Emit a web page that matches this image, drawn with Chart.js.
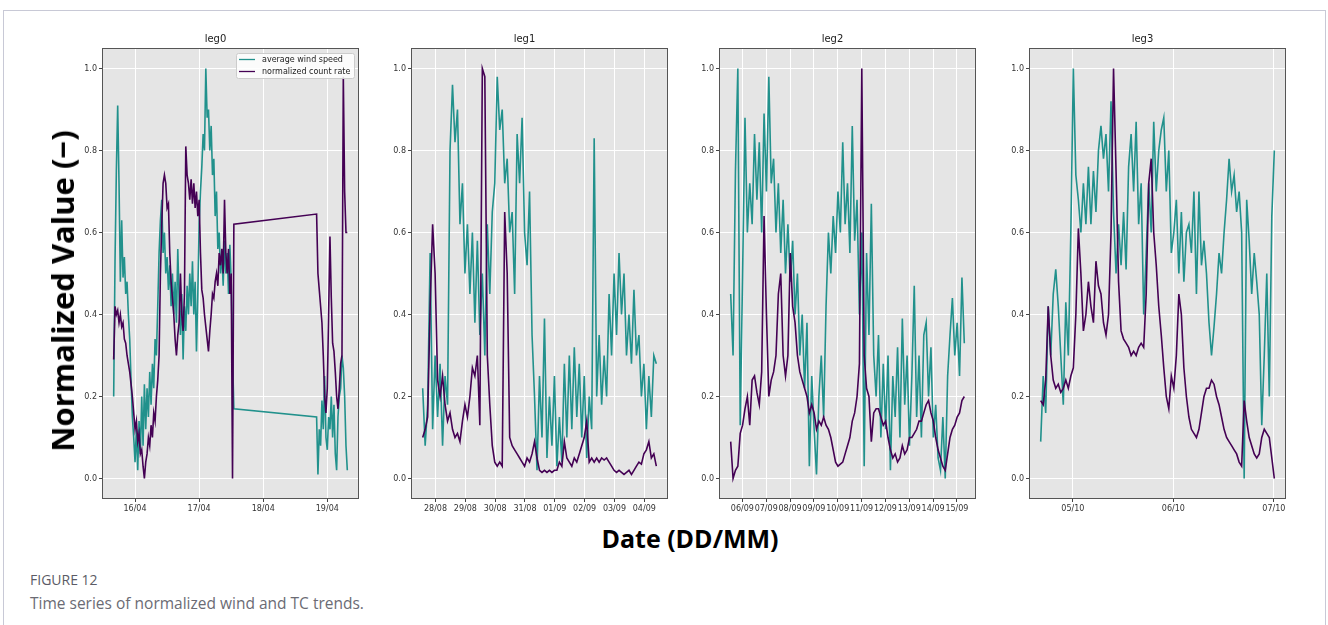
<!DOCTYPE html>
<html>
<head>
<meta charset="utf-8">
<script src="https://cdn.jsdelivr.net/npm/chart.js@4.4.1/dist/chart.umd.min.js"></script>
<style>
  html, body { margin: 0; padding: 0; background: #fff; width: 1328px; height: 625px; overflow: hidden; }
  .frame { position: absolute; left: 3px; top: 10px; width: 1323px; height: 700px; border: 1px solid #c8c9d6; box-sizing: border-box; }
  canvas.panel { position: absolute; top: 33px; }
  .ylab { position: absolute; left: 62px; top: 291px; transform: translate(-50%, -50%) rotate(-90deg);
          font: bold 31px 'Open Sans', sans-serif; white-space: nowrap; color: #000; }
  .xlab { position: absolute; left: 690px; top: 538px; transform: translate(-50%, -50%);
          font: bold 25px 'Open Sans', sans-serif; white-space: nowrap; color: #000; }
  .fig { position: absolute; left: 30px; top: 570px; font: 14px 'Open Sans', sans-serif; color: #5b5b66; }
  .caption { position: absolute; left: 30px; top: 592px; font: 15.5px 'Open Sans', sans-serif; color: #6b6b74; white-space: nowrap; }
</style>
</head>
<body>
<div class="frame"></div>
<canvas class="panel" id="leg0" width="295" height="486" style="left:72px"></canvas>
<canvas class="panel" id="leg1" width="295" height="486" style="left:381px"></canvas>
<canvas class="panel" id="leg2" width="295" height="486" style="left:689px"></canvas>
<canvas class="panel" id="leg3" width="295" height="486" style="left:999px"></canvas>
<div class="ylab">Normalized Value (−)</div>
<div class="xlab">Date (DD/MM)</div>
<div class="fig">FIGURE 12</div>
<div class="caption">Time series of normalized wind and TC trends.</div>

<script>
// Leg 0: April, half-hourly samples, data gap between 17/04 and 18/04
const leg0Start = 15.667;
const leg0LateStart = 18.833;
const leg0Step = 1 / 48;
const leg0Wind = [
    0.20, 0.53, 0.75, 0.91, 0.72, 0.48, 0.63, 0.49, 0.54, 0.45,
    0.48, 0.40, 0.34, 0.24, 0.15, 0.10, 0.04, 0.12, 0.02, 0.14,
    0.06, 0.20, 0.08, 0.23, 0.12, 0.22, 0.15, 0.26, 0.18, 0.28,
    0.22, 0.34, 0.30, 0.42, 0.55, 0.63, 0.68, 0.55, 0.60, 0.50,
    0.54, 0.46, 0.52, 0.42, 0.50, 0.40, 0.48, 0.38, 0.56, 0.44,
    0.35, 0.45, 0.29, 0.42, 0.36, 0.47, 0.40, 0.50, 0.42, 0.53,
    0.40, 0.48, 0.31, 0.45, 0.62, 0.70, 0.76, 0.84, 0.80, 1.00,
    0.88, 0.90, 0.80, 0.86, 0.74, 0.78, 0.64, 0.70, 0.56, 0.60,
    0.50, 0.55, 0.47, 0.58, 0.50, 0.55, 0.45, 0.57, 0.48, 0.30,
    0.17
];
const leg0Count = [
    0.29, 0.42, 0.40, 0.41, 0.38, 0.40, 0.37, 0.38, 0.34, 0.33,
    0.30, 0.28, 0.26, 0.23, 0.20, 0.16, 0.12, 0.14, 0.09, 0.11,
    0.06, 0.07, 0.03, 0.00, 0.04, 0.06, 0.10, 0.08, 0.13, 0.10,
    0.16, 0.14, 0.20, 0.24, 0.30, 0.50, 0.62, 0.72, 0.74, 0.72,
    0.66, 0.67, 0.55, 0.48, 0.44, 0.40, 0.34, 0.30, 0.35, 0.38,
    0.50, 0.40, 0.36, 0.45, 0.81, 0.74, 0.72, 0.68, 0.73, 0.67,
    0.72, 0.66, 0.70, 0.64, 0.68, 0.55, 0.46, 0.44, 0.40, 0.37,
    0.34, 0.31, 0.36, 0.40, 0.45, 0.44, 0.48, 0.50, 0.47, 0.55,
    0.52, 0.56, 0.50, 0.68, 0.55, 0.50, 0.56, 0.45, 0.50, 0.00,
    0.62
];
const leg0WindLate = [
    0.15, 0.01, 0.12, 0.08, 0.19, 0.12, 0.25, 0.10, 0.07, 0.15,
    0.12, 0.20, 0.10, 0.18, 0.06, 0.02, 0.15, 0.20, 0.22, 0.30,
    0.27, 0.20, 0.08, 0.02
];
const leg0CountLate = [
    0.645, 0.50, 0.46, 0.42, 0.38, 0.30, 0.20, 0.16, 0.22, 0.40,
    0.59, 0.44, 0.33, 0.31, 0.26, 0.20, 0.17, 0.22, 0.28, 0.30,
    0.98, 0.70, 0.60, 0.60
];
const leg0Ticks = [16, 17, 18, 19];

// Leg 1: end of August into September (day > 31 means September), 2-hourly
const leg1Start = 27.57;
const leg1Step = 1 / 12;
const leg1Wind = [
    0.22, 0.08, 0.18, 0.55, 0.12, 0.30, 0.15, 0.28, 0.08, 0.25,
    0.18, 0.80, 0.96, 0.82, 0.90, 0.62, 0.72, 0.50, 0.62, 0.45,
    0.60, 0.38, 0.58, 0.35, 0.50, 0.30, 0.62, 0.45, 0.65, 0.72,
    0.98, 0.85, 0.90, 0.72, 0.78, 0.60, 0.65, 0.45, 0.84, 0.72,
    0.88, 0.60, 0.52, 0.70, 0.35, 0.20, 0.02, 0.25, 0.10, 0.39,
    0.05, 0.20, 0.08, 0.25, 0.03, 0.15, 0.04, 0.28, 0.10, 0.30,
    0.12, 0.32, 0.15, 0.28, 0.10, 0.25, 0.05, 0.20, 0.12, 0.83,
    0.20, 0.35, 0.18, 0.30, 0.20, 0.45, 0.30, 0.50, 0.35, 0.55,
    0.40, 0.50, 0.30, 0.40, 0.28, 0.46, 0.30, 0.35, 0.20, 0.28,
    0.12, 0.25, 0.15, 0.30, 0.28
];
const leg1Count = [
    0.10, 0.12, 0.15, 0.42, 0.62, 0.50, 0.24, 0.20, 0.25, 0.18,
    0.14, 0.16, 0.12, 0.10, 0.11, 0.09, 0.14, 0.18, 0.15, 0.20,
    0.27, 0.25, 0.30, 0.13, 1.00, 0.98, 0.30, 0.18, 0.08, 0.04,
    0.03, 0.04, 0.03, 0.65, 0.50, 0.10, 0.08, 0.07, 0.06, 0.05,
    0.04, 0.03, 0.05, 0.04, 0.06, 0.09, 0.05, 0.02, 0.015, 0.02,
    0.015, 0.02, 0.015, 0.02, 0.02, 0.04, 0.03, 0.09, 0.05, 0.04,
    0.03, 0.05, 0.04, 0.06, 0.08, 0.10, 0.14, 0.04, 0.05, 0.04,
    0.05, 0.04, 0.05, 0.045, 0.05, 0.04, 0.03, 0.02, 0.015, 0.02,
    0.015, 0.01, 0.015, 0.02, 0.01, 0.02, 0.03, 0.04, 0.035, 0.06,
    0.07, 0.09, 0.05, 0.06, 0.03
];
const leg1Ticks = [28, 29, 30, 31, 32, 33, 34, 35];

// Leg 2: September
const leg2Start = 5.51;
const leg2Step = 0.1;
const leg2Wind = [
    0.45, 0.30, 0.75, 1.00, 0.13, 0.50, 0.88, 0.60, 0.72, 0.62,
    0.84, 0.68, 0.82, 0.60, 0.89, 0.70, 0.98, 0.72, 0.78, 0.60,
    0.72, 0.55, 0.68, 0.50, 0.62, 0.48, 0.58, 0.40, 0.50, 0.30,
    0.40, 0.22, 0.38, 0.03, 0.25, 0.12, 0.01, 0.20, 0.30, 0.15,
    0.42, 0.60, 0.50, 0.64, 0.55, 0.70, 0.60, 0.82, 0.62, 0.72,
    0.55, 0.86, 0.58, 0.68, 0.40, 0.60, 0.03, 0.55, 0.35, 0.67,
    0.30, 0.20, 0.35, 0.10, 0.28, 0.12, 0.30, 0.02, 0.25, 0.15,
    0.32, 0.10, 0.39, 0.18, 0.30, 0.08, 0.25, 0.47, 0.15, 0.30,
    0.10, 0.35, 0.38, 0.20, 0.32, 0.10, 0.18, 0.05, 0.02, 0.15,
    0.00, 0.25, 0.35, 0.44, 0.30, 0.38, 0.25, 0.49, 0.33
];
const leg2Count = [
    0.09, 0.00, 0.02, 0.03, 0.11, 0.13, 0.17, 0.20, 0.13, 0.24,
    0.25, 0.21, 0.18, 0.26, 0.64, 0.40, 0.20, 0.24, 0.26, 0.30,
    0.45, 0.50, 0.30, 0.25, 0.30, 0.55, 0.42, 0.38, 0.30, 0.26,
    0.24, 0.22, 0.20, 0.16, 0.18, 0.16, 0.12, 0.14, 0.13, 0.15,
    0.13, 0.12, 0.10, 0.07, 0.04, 0.03, 0.035, 0.04, 0.06, 0.08,
    0.10, 0.14, 0.16, 0.20, 0.28, 1.00, 0.30, 0.22, 0.20, 0.09,
    0.16, 0.17, 0.17, 0.15, 0.13, 0.14, 0.10, 0.07, 0.05, 0.06,
    0.04, 0.05, 0.08, 0.06, 0.07, 0.10, 0.10, 0.11, 0.12, 0.14,
    0.14, 0.16, 0.18, 0.19, 0.16, 0.14, 0.10, 0.07, 0.05, 0.03,
    0.02, 0.06, 0.10, 0.12, 0.13, 0.15, 0.16, 0.19, 0.20
];
const leg2Ticks = [6, 7, 8, 9, 10, 11, 12, 13, 14, 15];

// Leg 3: October
const leg3Start = 4.68;
const leg3Step = 1 / 40;
const leg3Wind = [
    0.09, 0.25, 0.16, 0.42, 0.30, 0.45, 0.51, 0.42, 0.30, 0.18,
    0.43, 0.30, 0.60, 1.00, 0.74, 0.68, 0.60, 0.72, 0.62, 0.76,
    0.62, 0.75, 0.65, 0.80, 0.86, 0.78, 0.84, 0.70, 0.92, 0.65,
    0.50, 0.62, 0.52, 0.65, 0.51, 0.76, 0.84, 0.70, 0.87, 0.62,
    0.72, 0.40, 0.55, 0.72, 0.60, 0.87, 0.70, 0.80, 0.85, 0.88,
    0.70, 0.80, 0.55, 0.60, 0.68, 0.50, 0.65, 0.48, 0.60, 0.62,
    0.55, 0.70, 0.45, 0.70, 0.52, 0.58, 0.50, 0.38, 0.30, 0.37,
    0.45, 0.55, 0.50, 0.60, 0.68, 0.78, 0.70, 0.74, 0.65, 0.70,
    0.60, 0.00, 0.68, 0.58, 0.45, 0.55, 0.48, 0.40, 0.13, 0.30,
    0.50, 0.20, 0.64, 0.80
];
const leg3Count = [
    0.19, 0.18, 0.24, 0.42, 0.30, 0.24, 0.22, 0.23, 0.21, 0.22,
    0.24, 0.22, 0.25, 0.27, 0.40, 0.61, 0.50, 0.36, 0.40, 0.48,
    0.42, 0.38, 0.53, 0.47, 0.45, 0.38, 0.35, 0.40, 0.60, 1.00,
    0.75, 0.48, 0.36, 0.34, 0.33, 0.32, 0.30, 0.31, 0.30, 0.32,
    0.33, 0.32, 0.45, 0.72, 0.78, 0.60, 0.52, 0.42, 0.35, 0.27,
    0.20, 0.17, 0.25, 0.22, 0.30, 0.45, 0.40, 0.27, 0.20, 0.15,
    0.12, 0.11, 0.10, 0.12, 0.16, 0.20, 0.22, 0.22, 0.24, 0.23,
    0.20, 0.18, 0.15, 0.12, 0.10, 0.09, 0.08, 0.07, 0.06, 0.04,
    0.03, 0.19, 0.14, 0.10, 0.08, 0.06, 0.05, 0.06, 0.10, 0.12,
    0.11, 0.10, 0.05, 0.00
];
const leg3Ticks = [5, 6, 7];

const yTicks = [0, 0.2, 0.4, 0.6, 0.8, 1.0];

const windColor = '#21918c';
const countColor = '#440154';
const tickFont = { family: 'DejaVu Sans', size: 8 };

function toPoints(start, step, values) {
    return values.map((v, i) => ({ x: start + i * step, y: v }));
}

function dayLabel(v, month, monthLen) {
    let d = Math.round(v);
    let m = month;
    if (d > monthLen) { d -= monthLen; m += 1; }
    return String(d).padStart(2, '0') + '/' + String(m).padStart(2, '0');
}

// grey plot background + dark frame, like the ggplot style
const panelFrame = {
    id: 'panelFrame',
    beforeDraw(chart) {
        const a = chart.chartArea, ctx = chart.ctx;
        ctx.save();
        ctx.fillStyle = '#e5e5e5';
        ctx.fillRect(a.left, a.top, a.width, a.height);
        ctx.restore();
    },
    afterDraw(chart) {
        const a = chart.chartArea, ctx = chart.ctx;
        ctx.save();
        ctx.strokeStyle = '#555';
        ctx.lineWidth = 1;
        ctx.strokeRect(a.left + 0.5, a.top + 0.5, a.width - 1, a.height - 1);
        ctx.restore();
    }
};

// small boxed legend in the top right corner of the plot
const boxLegend = {
    id: 'boxLegend',
    afterDatasetsDraw(chart, args, opts) {
        if (!opts.show) return;
        const a = chart.chartArea, ctx = chart.ctx;
        const w = 118, h = 25, right = a.right - 5, top = a.top + 5;
        const left = right - w;
        ctx.save();
        ctx.fillStyle = 'rgba(255,255,255,0.85)';
        ctx.strokeStyle = '#cccccc';
        ctx.lineWidth = 1;
        ctx.beginPath();
        ctx.roundRect(left + 0.5, top + 0.5, w, h, 2);
        ctx.fill();
        ctx.stroke();
        ctx.font = '8px "DejaVu Sans"';
        ctx.textBaseline = 'middle';
        chart.data.datasets.forEach((ds, i) => {
            const y = top + 6.5 + i * 12;
            ctx.strokeStyle = ds.borderColor;
            ctx.lineWidth = 1.3;
            ctx.beginPath();
            ctx.moveTo(left + 3, y);
            ctx.lineTo(left + 19, y);
            ctx.stroke();
            ctx.fillStyle = '#222';
            ctx.fillText(ds.label, left + 26, y);
        });
        ctx.restore();
    }
};

function makePanel(id, wind, count, ticks, month, monthLen, showLegend) {
    const xs = wind.map(p => p.x);
    const lo = Math.min(...xs), hi = Math.max(...xs);
    const pad = (hi - lo) * 0.05;

    return new Chart(document.getElementById(id), {
        type: 'line',
        data: {
            datasets: [
                { label: 'average wind speed', data: wind, borderColor: windColor, order: 1 },
                { label: 'normalized count rate', data: count, borderColor: countColor, order: 0 }
            ]
        },
        options: {
            responsive: false,
            animation: false,
            events: [],
            elements: {
                line: { borderWidth: 1.6, tension: 0, fill: false },
                point: { radius: 0 }
            },
            layout: { padding: { top: 0, right: 8, bottom: 0, left: 0 } },
            scales: {
                x: {
                    type: 'linear',
                    min: lo - pad,
                    max: hi + pad,
                    afterBuildTicks: s => { s.ticks = ticks.map(v => ({ value: v })); },
                    afterFit: s => { s.height = 20; s.paddingLeft = 0; s.paddingRight = 0; },
                    ticks: {
                        autoSkip: false, maxRotation: 0, minRotation: 0, padding: 2,
                        font: tickFont, color: '#333',
                        callback: v => dayLabel(v, month, monthLen)
                    },
                    grid: { color: '#ffffff', lineWidth: 1, tickColor: '#444', tickLength: 3 },
                    border: { display: false }
                },
                y: {
                    min: -0.05,
                    max: 1.05,
                    afterBuildTicks: s => { s.ticks = yTicks.map(v => ({ value: v })); },
                    afterFit: s => { s.width = 30; s.paddingTop = 0; s.paddingBottom = 0; },
                    ticks: {
                        padding: 2, font: tickFont, color: '#333',
                        callback: v => v.toFixed(1)
                    },
                    grid: { color: '#ffffff', lineWidth: 1, tickColor: '#444', tickLength: 3 },
                    border: { display: false }
                }
            },
            plugins: {
                legend: { display: false },
                tooltip: { enabled: false },
                title: {
                    display: true,
                    text: id,
                    color: '#222',
                    font: { family: 'DejaVu Sans', size: 10, weight: 'normal' },
                    padding: { top: 0, bottom: 3 }
                },
                boxLegend: { show: showLegend }
            }
        },
        plugins: [panelFrame, boxLegend]
    });
}

makePanel('leg0',
    toPoints(leg0Start, leg0Step, leg0Wind).concat(toPoints(leg0LateStart, leg0Step, leg0WindLate)),
    toPoints(leg0Start, leg0Step, leg0Count).concat(toPoints(leg0LateStart, leg0Step, leg0CountLate)),
    leg0Ticks, 4, 30, true);
makePanel('leg1', toPoints(leg1Start, leg1Step, leg1Wind), toPoints(leg1Start, leg1Step, leg1Count),
    leg1Ticks, 8, 31, false);
makePanel('leg2', toPoints(leg2Start, leg2Step, leg2Wind), toPoints(leg2Start, leg2Step, leg2Count),
    leg2Ticks, 9, 30, false);
makePanel('leg3', toPoints(leg3Start, leg3Step, leg3Wind), toPoints(leg3Start, leg3Step, leg3Count),
    leg3Ticks, 10, 31, false);
</script>
</body>
</html>
